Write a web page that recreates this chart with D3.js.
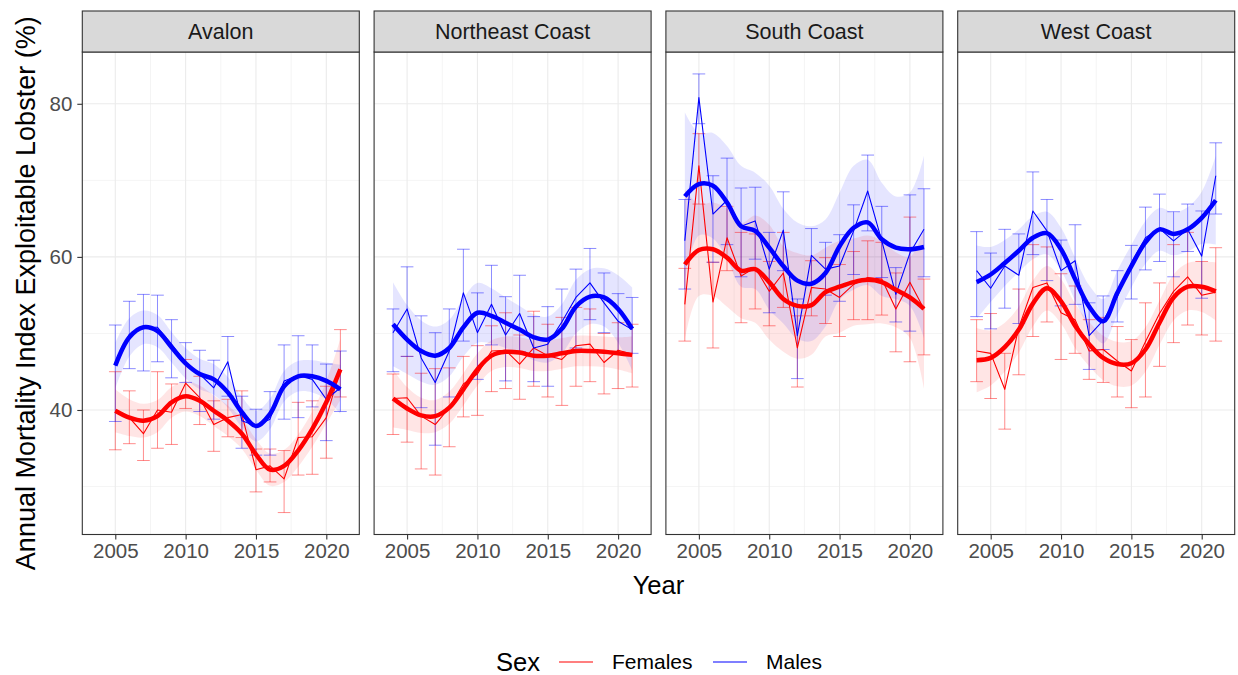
<!DOCTYPE html>
<html>
<head>
<meta charset="utf-8">
<script src="https://cdn.jsdelivr.net/npm/d3@7"></script>
<style>
  body { margin: 0; background: #fff; }
  svg { display: block; font-family: "Liberation Sans", Arial, sans-serif; }
</style>
</head>
<body>
<svg id="chart" width="1238" height="675"></svg>
<script>
// Survey years shared by all regions (Avalon has no 2004 estimate)
const years = d3.range(2004, 2022);
const regions = ["Avalon", "Northeast Coast", "South Coast", "West Coast"];
const sexes = ["Females", "Males"];
const sexColours = ["#FF0000", "#0000FF"];
const xTicks = [2005, 2010, 2015, 2020];
const yTicks = [40, 60, 80];

// est = annual index, lo/hi = error bar limits, fit = smoothed trend, ci = trend band half-width
const avalonFemales = {
  est: [null, 39.9, 39.0, 36.9, 40.0, 39.7, 43.5, 41.6, 38.1, 39.0, 39.4, 32.2, 32.7, 31.0, 36.4, 36.5, 39.0, 45.3],
  lo:  [null, 34.8, 35.6, 33.4, 35.0, 35.5, 40.2, 38.1, 34.6, 36.5, 36.4, 29.3, 30.6, 26.6, 31.5, 31.6, 33.7, 41.7],
  hi:  [null, 45.0, 42.5, 40.0, 45.0, 43.4, 46.6, 44.4, 41.2, 41.4, 42.5, 34.9, 34.9, 34.7, 41.0, 41.2, 43.1, 50.5],
  fit: [null, 39.9, 39.0, 38.6, 39.2, 41.0, 41.8, 41.2, 39.9, 38.6, 36.9, 34.2, 32.2, 32.7, 34.7, 37.5, 41.0, 45.3],
  ci:  [null, 2.8, 2.4, 2.2, 2.1, 2.0, 2.0, 2.0, 2.0, 2.0, 2.0, 2.0, 2.1, 2.1, 2.1, 2.3, 2.8, 4.0]
};
const avalonMales = {
  est: [null, 45.8, 49.9, 50.8, 50.8, 48.6, 46.2, 44.7, 42.9, 46.3, 38.6, 37.9, 38.8, 43.8, 44.5, 44.0, 41.4, 42.9],
  lo:  [null, 38.5, 45.4, 45.1, 46.3, 44.2, 43.6, 39.8, 38.8, 41.8, 35.0, 34.1, 34.1, 38.8, 39.0, 40.4, 36.0, 39.8],
  hi:  [null, 51.1, 54.2, 55.1, 55.0, 51.8, 48.8, 47.8, 46.5, 49.6, 41.8, 40.1, 42.4, 48.5, 49.7, 48.5, 46.0, 47.7],
  fit: [null, 45.8, 49.5, 50.8, 50.3, 48.2, 46.1, 44.7, 44.0, 42.3, 39.7, 37.9, 39.5, 43.1, 44.4, 44.4, 43.8, 42.7],
  ci:  [null, 3.0, 2.5, 2.2, 2.1, 2.0, 2.0, 2.0, 2.0, 2.0, 2.0, 2.0, 2.0, 2.0, 2.0, 2.1, 2.4, 3.2]
};
const northeastFemales = {
  est: [41.5, 41.6, 39.2, 38.1, 40.3, 43.4, 44.7, 47.7, 47.8, 46.0, 48.1, 47.1, 46.6, 48.4, 48.6, 46.2, 47.8, 47.3],
  lo:  [36.8, 35.8, 32.3, 31.5, 35.2, 39.1, 39.3, 42.4, 42.8, 41.4, 43.1, 41.7, 40.6, 43.1, 43.7, 42.1, 42.8, 43.0],
  hi:  [44.7, 47.0, 44.8, 45.4, 45.5, 47.0, 48.4, 51.0, 52.7, 49.8, 52.9, 51.2, 52.1, 53.4, 53.2, 50.0, 51.4, 51.2],
  fit: [41.5, 40.2, 39.3, 39.2, 40.3, 42.7, 45.3, 47.1, 47.6, 47.5, 47.1, 47.1, 47.4, 47.7, 47.7, 47.6, 47.4, 47.2],
  ci:  [3.8, 2.8, 2.3, 2.1, 2.1, 2.1, 2.1, 2.0, 2.0, 2.0, 2.0, 2.0, 2.0, 2.0, 2.0, 2.0, 2.1, 2.4]
};
const northeastMales = {
  est: [50.1, 53.2, 46.8, 43.6, 47.7, 55.3, 50.1, 53.8, 49.8, 52.6, 48.1, 48.6, 51.5, 54.7, 56.6, 54.0, 51.6, 50.5],
  lo:  [45.0, 47.0, 40.3, 35.4, 41.7, 49.0, 44.0, 48.5, 43.8, 47.6, 43.7, 43.1, 47.4, 48.1, 51.8, 50.1, 47.3, 47.4],
  hi:  [53.2, 58.7, 52.3, 50.1, 53.2, 61.0, 55.3, 58.9, 54.8, 57.6, 52.2, 53.5, 55.8, 58.4, 61.1, 57.9, 55.2, 54.7],
  fit: [51.2, 49.2, 47.7, 47.1, 48.1, 50.8, 52.7, 52.3, 51.4, 50.5, 49.5, 49.2, 50.6, 53.5, 54.8, 54.7, 53.2, 50.6],
  ci:  [5.5, 4.5, 4.0, 3.8, 3.7, 3.8, 3.9, 3.6, 3.3, 3.1, 3.0, 3.0, 3.2, 3.5, 3.6, 3.8, 4.4, 5.4]
};
const southFemales = {
  est: [53.8, 71.9, 54.1, 62.5, 57.5, 58.6, 55.5, 57.9, 48.1, 56.0, 55.8, 54.7, 56.4, 57.3, 57.1, 53.2, 56.7, 53.2],
  lo:  [49.0, 66.9, 48.1, 58.2, 51.4, 53.2, 51.0, 53.4, 43.0, 52.3, 51.3, 49.6, 51.8, 51.8, 52.4, 47.6, 46.3, 47.2],
  hi:  [58.5, 76.1, 59.3, 66.6, 63.2, 63.0, 59.4, 63.2, 52.3, 59.5, 59.9, 59.0, 60.7, 62.1, 61.9, 57.9, 65.2, 57.1],
  fit: [59.0, 60.9, 61.0, 59.9, 58.2, 58.4, 56.7, 54.5, 53.6, 53.7, 55.4, 56.1, 56.7, 57.0, 56.7, 55.7, 54.7, 53.2],
  ci:  [9.8, 6.0, 6.1, 6.4, 6.2, 7.0, 7.5, 6.9, 6.9, 6.5, 5.8, 6.0, 5.7, 5.8, 5.4, 4.9, 5.3, 10.4]
};
const southMales = {
  est: [62.1, 80.8, 65.6, 67.4, 64.0, 64.7, 58.4, 63.5, 49.7, 60.2, 58.4, 58.8, 63.4, 68.6, 62.1, 55.1, 60.5, 63.6],
  lo:  [55.8, 77.4, 59.3, 61.6, 57.4, 59.7, 52.7, 58.2, 44.1, 56.6, 55.0, 54.2, 57.7, 63.4, 57.3, 51.5, 50.3, 57.4],
  hi:  [67.5, 83.9, 70.6, 72.9, 69.0, 69.1, 63.2, 68.5, 54.5, 63.7, 61.9, 62.9, 66.8, 73.3, 66.6, 58.6, 68.1, 68.9],
  fit: [67.9, 69.5, 69.3, 67.1, 64.0, 63.4, 61.2, 58.8, 56.9, 56.5, 57.9, 61.4, 63.8, 64.5, 62.3, 61.2, 61.0, 61.3],
  ci:  [11.0, 6.7, 6.9, 7.4, 7.9, 7.6, 8.1, 7.5, 7.6, 7.5, 7.0, 7.0, 8.1, 8.2, 7.4, 6.7, 7.4, 11.9]
};
const westFemales = {
  est: [47.7, 47.4, 42.7, 50.8, 56.0, 56.6, 52.7, 51.8, 47.7, 47.9, 46.4, 45.1, 48.9, 52.6, 55.5, 57.4, 55.0, 55.4],
  lo:  [43.7, 41.5, 37.5, 44.6, 49.6, 51.5, 46.6, 47.4, 44.0, 43.6, 41.7, 40.3, 41.7, 45.7, 48.8, 51.1, 49.8, 49.0],
  hi:  [51.8, 52.6, 47.4, 55.8, 61.6, 61.3, 57.8, 56.2, 51.8, 52.1, 50.9, 49.2, 54.0, 56.6, 61.6, 63.2, 59.4, 61.2],
  fit: [46.5, 46.8, 48.2, 50.5, 53.9, 55.9, 54.2, 51.0, 48.6, 46.8, 46.0, 46.1, 47.9, 51.4, 54.7, 56.1, 56.1, 55.5],
  ci:  [4.2, 3.6, 3.2, 3.0, 3.0, 2.9, 2.9, 2.9, 2.9, 2.9, 2.9, 2.9, 2.9, 2.9, 3.0, 3.1, 3.3, 3.8]
};
const westMales = {
  est: [58.2, 55.9, 58.8, 57.6, 66.0, 63.4, 58.2, 59.5, 49.7, 51.7, 54.8, 59.2, 62.5, 63.7, 62.1, 63.6, 60.1, 70.6],
  lo:  [52.2, 50.6, 53.3, 51.3, 60.3, 56.9, 53.6, 53.8, 45.3, 47.9, 51.5, 54.5, 58.3, 59.4, 57.4, 60.7, 54.6, 65.6],
  hi:  [63.3, 60.5, 63.6, 63.0, 71.1, 67.5, 62.2, 64.2, 54.0, 54.9, 58.2, 61.5, 66.5, 68.2, 65.9, 66.9, 66.0, 74.9],
  fit: [56.7, 57.7, 59.2, 60.8, 62.5, 63.1, 61.0, 57.1, 53.5, 51.6, 55.3, 58.8, 61.9, 63.6, 63.0, 63.6, 65.1, 67.4],
  ci:  [4.8, 3.6, 3.0, 2.8, 2.8, 2.8, 2.8, 2.8, 2.8, 2.9, 2.9, 2.8, 2.8, 2.8, 2.8, 2.9, 3.4, 5.8]
};

const seriesByRegion = [
  [avalonFemales, avalonMales],
  [northeastFemales, northeastMales],
  [southFemales, southMales],
  [westFemales, westMales]
];

// ---- layout ----
const svg = d3.select("#chart");
const panelW = 277, panelGap = 14.8;
const panelLeft = 82.3;
const stripTop = 11, plotTop = 52, plotBottom = 534.5;
const errWidth = 0.9;
const tickFont = 20.5, stripFont = 21.5, titleFont = 25.6, legendFont = 21;

// Scales shared by every facet (5% expansion around the data)
const allLo = seriesByRegion.flat().flatMap(s => s.lo.filter(v => v != null));
const allHi = seriesByRegion.flat().flatMap(s => s.hi.filter(v => v != null));
const yMin = d3.min(allLo), yMax = d3.max(allHi);
const yPad = (yMax - yMin) * 0.05;
const y = d3.scaleLinear().domain([yMin - yPad, yMax + yPad]).range([plotBottom, plotTop]);

const xLo = d3.min(years) - errWidth / 2, xHi = d3.max(years) + errWidth / 2;
const xPad = (xHi - xLo) * 0.05;
const x = d3.scaleLinear().domain([xLo - xPad, xHi + xPad]).range([0, panelW]);

const xMinor = [2002.5, 2007.5, 2012.5, 2017.5, 2022.5].filter(v => v >= x.domain()[0] && v <= x.domain()[1]);
const yMinor = [20, 30, 50, 70, 90].filter(v => v >= y.domain()[0] && v <= y.domain()[1]);

const defs = svg.append("defs");

regions.forEach((region, ri) => {
  const left = panelLeft + ri * (panelW + panelGap);
  const g = svg.append("g").attr("transform", `translate(${left},0)`);

  defs.append("clipPath").attr("id", "clip" + ri)
    .append("rect").attr("x", 0).attr("y", plotTop).attr("width", panelW).attr("height", plotBottom - plotTop);

  // background + grid
  g.append("rect").attr("x", 0).attr("y", plotTop).attr("width", panelW).attr("height", plotBottom - plotTop).attr("fill", "#fff");
  const grid = g.append("g");
  grid.selectAll(".yminor").data(yMinor).join("line")
    .attr("x1", 0).attr("x2", panelW).attr("y1", d => y(d)).attr("y2", d => y(d))
    .attr("stroke", "#EBEBEB").attr("stroke-width", 0.55);
  grid.selectAll(".xminor").data(xMinor).join("line")
    .attr("x1", d => x(d)).attr("x2", d => x(d)).attr("y1", plotTop).attr("y2", plotBottom)
    .attr("stroke", "#EBEBEB").attr("stroke-width", 0.55);
  grid.selectAll(".ymajor").data(yTicks).join("line")
    .attr("x1", 0).attr("x2", panelW).attr("y1", d => y(d)).attr("y2", d => y(d))
    .attr("stroke", "#EBEBEB").attr("stroke-width", 1.1);
  grid.selectAll(".xmajor").data(xTicks).join("line")
    .attr("x1", d => x(d)).attr("x2", d => x(d)).attr("y1", plotTop).attr("y2", plotBottom)
    .attr("stroke", "#EBEBEB").attr("stroke-width", 1.1);

  const marks = g.append("g").attr("clip-path", `url(#clip${ri})`);
  const pair = seriesByRegion[ri];

  const rows = pair.map(s => years.map((yr, i) => ({
    yr, est: s.est[i], lo: s.lo[i], hi: s.hi[i], fit: s.fit[i], ci: s.ci[i]
  })).filter(d => d.est != null));

  const curve = d3.curveCatmullRom.alpha(0.5);

  // trend confidence bands
  rows.forEach((r, si) => {
    const area = d3.area().curve(curve)
      .x(d => x(d.yr)).y0(d => y(d.fit - d.ci)).y1(d => y(d.fit + d.ci));
    marks.append("path").datum(r).attr("d", area)
      .attr("fill", sexColours[si]).attr("fill-opacity", 0.1);
  });

  // error bars
  rows.forEach((r, si) => {
    const eb = marks.append("g").attr("stroke", sexColours[si]).attr("stroke-opacity", 0.45).attr("stroke-width", 1).attr("fill", "none");
    const hw = (x(errWidth) - x(0)) / 2;
    eb.selectAll(".v").data(r).join("line")
      .attr("x1", d => x(d.yr)).attr("x2", d => x(d.yr)).attr("y1", d => y(d.lo)).attr("y2", d => y(d.hi));
    eb.selectAll(".t").data(r).join("line")
      .attr("x1", d => x(d.yr) - hw).attr("x2", d => x(d.yr) + hw).attr("y1", d => y(d.hi)).attr("y2", d => y(d.hi));
    eb.selectAll(".b").data(r).join("line")
      .attr("x1", d => x(d.yr) - hw).attr("x2", d => x(d.yr) + hw).attr("y1", d => y(d.lo)).attr("y2", d => y(d.lo));
  });

  // annual index lines
  rows.forEach((r, si) => {
    const line = d3.line().x(d => x(d.yr)).y(d => y(d.est));
    marks.append("path").datum(r).attr("d", line)
      .attr("fill", "none").attr("stroke", sexColours[si]).attr("stroke-width", 1.1).attr("stroke-linejoin", "round");
  });

  // smoothed trends
  rows.forEach((r, si) => {
    const line = d3.line().curve(curve).x(d => x(d.yr)).y(d => y(d.fit));
    marks.append("path").datum(r).attr("d", line)
      .attr("fill", "none").attr("stroke", sexColours[si]).attr("stroke-width", 4.5)
      .attr("stroke-linecap", "butt").attr("stroke-linejoin", "round");
  });

  // panel border
  g.append("rect").attr("x", 0).attr("y", plotTop).attr("width", panelW).attr("height", plotBottom - plotTop)
    .attr("fill", "none").attr("stroke", "#333333").attr("stroke-width", 1.1);

  // strip
  g.append("rect").attr("x", 0).attr("y", stripTop).attr("width", panelW).attr("height", plotTop - stripTop)
    .attr("fill", "#D9D9D9").attr("stroke", "#333333").attr("stroke-width", 1.1);
  g.append("text").attr("x", panelW / 2).attr("y", (stripTop + plotTop) / 2 + 7.5)
    .attr("text-anchor", "middle").attr("font-size", stripFont).attr("fill", "#1A1A1A").text(region);

  // x axis
  const xAxis = g.append("g").attr("transform", `translate(0,${plotBottom})`)
    .call(d3.axisBottom(x).tickValues(xTicks).tickFormat(d3.format("d")).tickSize(5).tickPadding(4));
  xAxis.select(".domain").remove();
  xAxis.selectAll(".tick line").attr("stroke", "#333333").attr("stroke-width", 1.1);
  xAxis.selectAll(".tick text").attr("font-size", tickFont).attr("fill", "#4D4D4D").attr("font-family", "Liberation Sans, Arial, sans-serif");

  if (ri === 0) {
    const yAxis = g.append("g")
      .call(d3.axisLeft(y).tickValues(yTicks).tickFormat(d3.format("d")).tickSize(5).tickPadding(5));
    yAxis.select(".domain").remove();
    yAxis.selectAll(".tick line").attr("stroke", "#333333").attr("stroke-width", 1.1);
    yAxis.selectAll(".tick text").attr("font-size", tickFont).attr("fill", "#4D4D4D").attr("font-family", "Liberation Sans, Arial, sans-serif");
  }
});

// axis titles
const plotsRight = panelLeft + 4 * panelW + 3 * panelGap;
svg.append("text").attr("x", (panelLeft + plotsRight) / 2).attr("y", 594)
  .attr("text-anchor", "middle").attr("font-size", titleFont).attr("fill", "#000").text("Year");
svg.append("text").attr("transform", `translate(35,${(plotTop + plotBottom) / 2}) rotate(-90)`)
  .attr("text-anchor", "middle").attr("font-size", 27).attr("fill", "#000")
  .text("Annual Mortality Index Exploitable Lobster (%)");

// legend
const legend = svg.append("g");
legend.append("text").attr("x", 496).attr("y", 671).attr("font-size", titleFont).attr("fill", "#000").text("Sex");
const keyX = [559, 713], labelX = [612, 766];
sexes.forEach((s, i) => {
  legend.append("line").attr("x1", keyX[i]).attr("x2", keyX[i] + 34).attr("y1", 662).attr("y2", 662)
    .attr("stroke", sexColours[i]).attr("stroke-width", 1.1);
  legend.append("text").attr("x", labelX[i]).attr("y", 669).attr("font-size", legendFont).attr("fill", "#000").text(s);
});
</script>
</body>
</html>
